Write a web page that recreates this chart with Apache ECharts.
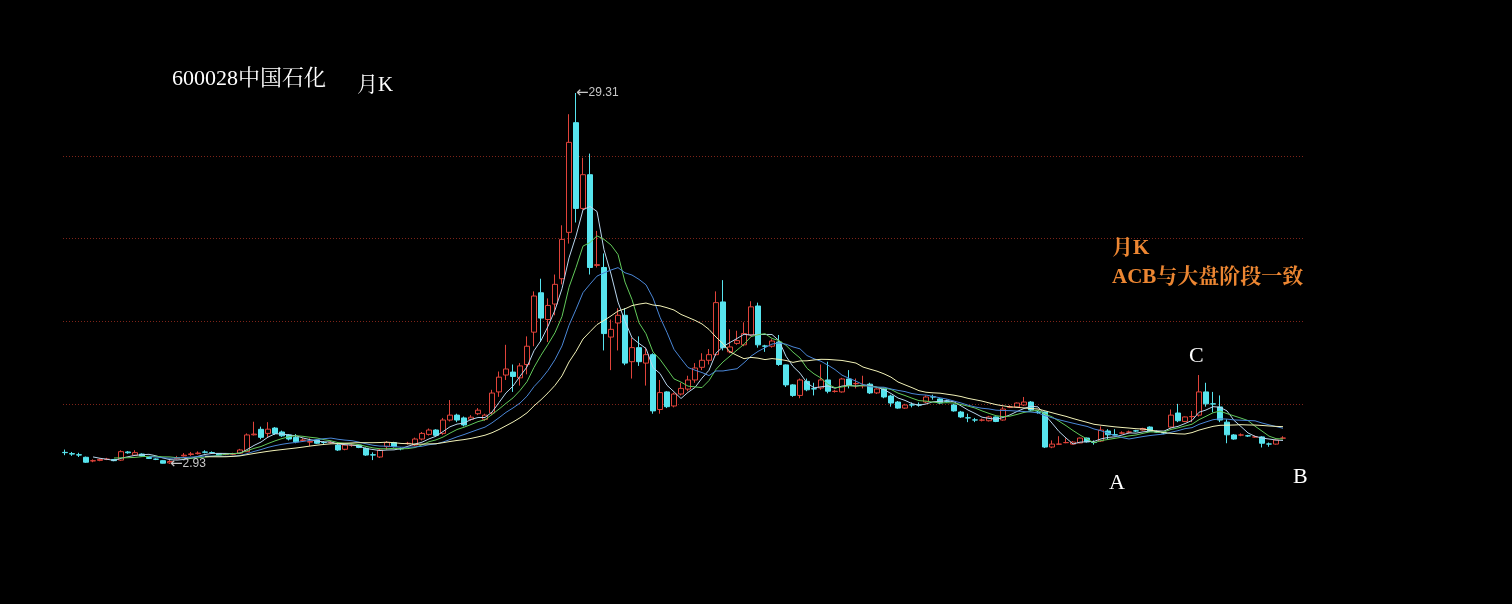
<!DOCTYPE html>
<html><head><meta charset="utf-8">
<script src="https://cdn.jsdelivr.net/npm/echarts@6/dist/echarts.min.js"></script>
<style>html,body{margin:0;padding:0;background:#000;}#c{width:1512px;height:604px;}</style>
</head><body><div id="c"></div>
<script>
// Monthly K of 600028 (from 2001-08)
const opens = [3.75,3.66,3.58,3.40,3.14,3.18,3.25,3.24,3.20,3.78,3.55,3.63,3.38,3.27,3.16,3.00,3.30,3.50,3.60,3.66,
3.78,3.74,3.67,3.60,3.62,3.69,3.80,5.00,5.39,5.10,5.48,5.20,4.99,4.82,4.60,4.48,4.63,4.46,4.44,4.27,
3.97,4.26,4.27,4.04,3.58,3.42,4.16,4.45,4.02,4.38,4.27,4.70,5.03,5.34,5.10,6.05,6.40,6.20,6.10,6.50,
6.10,6.55,8.05,9.25,9.46,9.05,10.00,12.30,15.10,13.20,14.30,16.10,19.40,27.20,21.10,23.50,17.05,16.90,11.95,12.95,
13.50,10.20,11.20,10.10,10.70,6.80,8.05,7.05,7.90,8.25,8.90,9.80,10.30,10.70,14.45,10.90,11.50,11.40,12.10,14.16,
11.32,11.30,11.60,9.97,8.55,7.80,8.80,8.28,8.33,8.90,8.08,8.05,8.97,8.63,8.48,8.60,7.98,8.26,7.76,7.33,
6.90,7.13,7.13,7.33,7.70,7.55,7.40,7.12,6.62,6.21,6.06,6.04,6.00,6.27,6.05,6.96,6.98,7.12,7.33,6.62,
6.62,4.13,4.33,4.44,4.34,4.42,4.77,4.46,4.56,5.27,5.00,5.12,5.19,5.28,5.34,5.55,5.21,5.14,5.55,6.55,
5.95,6.29,6.40,8.05,7.20,6.98,5.90,4.99,4.98,4.93,4.84,4.85,4.35,4.34,4.76];
const closes = [3.73,3.63,3.56,3.05,3.16,3.25,3.27,3.16,3.80,3.72,3.73,3.49,3.32,3.26,2.98,3.10,3.35,3.55,3.64,3.70,
3.76,3.72,3.57,3.62,3.64,3.92,4.99,5.05,4.82,5.40,5.10,4.93,4.70,4.50,4.63,4.52,4.40,4.45,4.45,3.92,
4.27,4.27,4.10,3.56,3.56,3.92,4.45,4.16,4.00,4.40,4.70,5.10,5.34,4.96,6.05,6.40,6.05,5.70,6.25,6.75,
6.40,7.97,9.10,9.68,9.15,9.90,11.30,14.87,13.30,14.20,15.70,18.90,25.80,21.10,23.50,16.90,17.10,12.20,12.50,13.50,
10.10,11.20,10.20,10.70,6.70,8.00,7.00,7.90,8.30,8.90,9.75,10.30,10.70,14.40,11.20,11.25,11.70,12.20,14.10,11.40,
11.30,11.67,10.00,8.55,7.80,8.90,8.20,8.26,8.90,8.10,8.10,8.97,8.50,8.65,8.50,7.98,8.26,7.69,7.26,6.90,
7.12,7.12,7.12,7.69,7.69,7.26,7.38,6.70,6.27,6.20,6.05,6.05,6.27,5.95,6.83,6.98,7.26,7.33,6.76,6.60,
4.13,4.34,4.34,4.45,4.48,4.77,4.50,4.45,5.34,5.00,4.99,5.13,5.20,5.27,5.45,5.27,5.20,5.13,6.40,6.00,
6.27,6.30,8.05,7.20,7.19,6.05,5.00,4.70,4.99,4.92,4.85,4.40,4.34,4.63,4.77];
const lows = [3.55,3.50,3.42,3.00,3.05,3.12,3.20,3.12,3.15,3.65,3.50,3.45,3.28,3.20,2.96,2.93,3.25,3.45,3.50,3.60,
3.68,3.65,3.52,3.55,3.55,3.65,3.78,4.95,4.68,4.85,5.00,4.85,4.60,4.40,4.50,4.20,4.35,4.35,4.38,3.85,
3.90,4.15,4.05,3.50,3.20,3.35,3.95,4.10,3.90,4.30,4.20,4.60,4.95,4.90,5.00,5.95,5.90,5.60,6.00,6.40,
6.00,6.40,7.70,8.90,8.05,8.50,9.30,11.30,11.60,11.60,13.50,15.70,18.60,20.10,21.00,16.40,16.90,11.00,9.60,11.00,
9.95,9.00,9.90,8.50,6.50,6.50,6.90,6.95,7.80,8.10,8.70,9.60,10.00,10.60,11.00,10.80,11.40,11.30,12.00,11.20,
10.90,11.20,9.90,8.40,7.70,7.60,8.10,7.80,8.20,7.95,8.00,8.00,8.30,8.30,8.30,7.90,7.90,7.60,7.00,6.85,
6.85,6.95,7.00,7.25,7.50,7.20,7.30,6.65,6.20,5.90,5.90,5.95,5.95,5.90,6.00,6.90,6.95,7.05,6.70,6.50,
4.06,4.05,4.30,4.40,4.30,4.40,4.45,4.30,4.50,4.70,4.90,5.05,5.10,5.20,5.30,5.20,5.15,5.05,5.50,5.90,
5.90,5.90,6.30,7.00,6.60,5.90,4.40,4.65,4.90,4.85,4.80,4.10,4.15,4.30,4.70];
const highs = [3.95,3.78,3.72,3.45,3.25,3.32,3.36,3.28,3.90,3.85,3.90,3.68,3.42,3.32,3.20,3.20,3.50,3.70,3.78,3.82,
3.90,3.82,3.70,3.70,3.72,4.00,5.10,5.93,5.58,5.90,5.55,5.30,5.05,5.05,4.75,4.75,4.70,4.55,4.55,4.35,
4.35,4.35,4.32,4.10,3.75,4.00,4.55,4.50,4.10,4.50,4.80,5.20,5.45,5.40,6.20,7.47,6.50,6.30,6.40,6.90,
6.50,8.20,9.50,11.40,10.00,10.10,12.00,15.20,16.10,14.70,16.40,19.90,27.80,29.31,24.70,25.00,19.50,17.90,13.20,14.00,
14.00,11.90,12.00,11.20,10.80,8.90,8.10,8.00,8.70,9.20,10.10,10.80,11.10,15.20,16.00,12.50,12.40,13.00,14.50,14.40,
11.40,11.80,12.10,10.00,8.60,9.00,9.00,8.70,10.00,10.20,8.20,9.05,9.60,9.00,9.20,8.70,8.30,8.30,7.85,7.40,
7.20,7.30,7.30,7.80,7.85,7.60,7.50,7.20,6.70,6.50,6.20,6.15,6.35,6.30,7.00,7.10,7.30,7.69,7.40,6.70,
6.65,4.60,4.90,4.75,4.55,4.80,4.80,4.60,5.60,5.40,5.40,5.25,5.30,5.35,5.50,5.60,5.30,5.20,6.80,7.20,
6.30,6.70,9.25,8.70,8.05,7.80,6.10,5.05,5.10,5.00,4.95,4.90,4.45,4.65,4.90];
const maPeriods = [5, 8, 13, 21];
const maColors = ['#b9d6ee', '#62c95a', '#4a86d6', '#f2f2b8'];
const titleText = '600028中国石化';
const subText = '月K';
const noteLines = ['月K', 'ACB与大盘阶段一致'];
const phaseLabels = ['A', 'C', 'B'];

const categories = [];
for (let i = 0; i < closes.length; i++) {
  const y = 2001 + Math.floor((7 + i) / 12), m = (7 + i) % 12 + 1;
  categories.push(y + '-' + (m < 10 ? '0' : '') + m);
}
const kdata = opens.map((o, i) => [o, closes[i], lows[i], highs[i]]);
function ma(n) {
  const out = [];
  for (let i = 0; i < closes.length; i++) {
    if (i < n - 1) { out.push('-'); continue; }
    let s = 0; for (let j = i - n + 1; j <= i; j++) s += closes[j];
    out.push(+(s / n).toFixed(3));
  }
  return out;
}
let iMax = 0, iMin = 0;
highs.forEach((h, i) => { if (h > highs[iMax]) iMax = i; });
lows.forEach((l, i) => { if (l < lows[iMin]) iMin = i; });

const chart = echarts.init(document.getElementById('c'), null, { renderer: 'canvas' });
const serif = '"Liberation Serif","Noto Serif CJK SC","Noto Sans CJK SC",serif';
const txt = (t, left, top, color, size, weight) => ({ text: t, left: left, top: top,
  textStyle: { color: color, fontSize: size, fontFamily: serif, fontWeight: weight || 'normal' } });

chart.setOption({
  backgroundColor: '#000',
  animation: false,
  title: [
    txt(titleText, 167, 63, '#ffffff', 22),
    txt(subText, 352, 70, '#ffffff', 21),
    txt(noteLines[0], 1107, 233, '#ec8632', 21, 'bold'),
    txt(noteLines[1], 1107, 262, '#ec8632', 21, 'bold'),
    txt(phaseLabels[0], 1104, 467, '#ffffff', 22),
    txt(phaseLabels[1], 1184, 340, '#ffffff', 22),
    txt(phaseLabels[2], 1288, 461, '#ffffff', 22)
  ],
  grid: [
    { left: 61.5, width: 1225, top: 83.3, bottom: 98.9 },
    { left: 63, right: 209, top: 156, height: 248 }
  ],
  xAxis: [
    { type: 'category', data: categories, gridIndex: 0, boundaryGap: true, show: false },
    { type: 'value', gridIndex: 1, min: 0, max: 1, show: false }
  ],
  yAxis: [
    { type: 'value', gridIndex: 0, min: 0, max: 30, show: false, splitLine: { show: false } },
    { type: 'value', gridIndex: 1, min: 0, max: 3, interval: 1,
      axisLine: { show: false }, axisTick: { show: false }, axisLabel: { show: false },
      splitLine: { show: true, lineStyle: { color: '#7e2419', type: [1, 2], width: 1 } } }
  ],
  series: [
    {
      type: 'candlestick', data: kdata, xAxisIndex: 0, yAxisIndex: 0, barWidth: 5,
      itemStyle: { color: '#000', color0: '#57e4ee', borderColor: '#e0433a', borderColor0: '#57e4ee', borderWidth: 1 },
      markPoint: {
        symbol: 'circle', symbolSize: 0.01, animation: false,
        label: { show: true, position: 'right', distance: 0,
          formatter: p => '{a|\u2190}{b|' + p.value.toFixed(2) + '}',
          rich: {
            a: { color: '#c8c8c8', fontSize: 15, fontFamily: '"DejaVu Sans", sans-serif' },
            b: { color: '#c8c8c8', fontSize: 12, fontFamily: '"Liberation Sans", Arial, sans-serif' }
          } },
        data: [
          { coord: [iMax, highs[iMax]], value: highs[iMax] },
          { coord: [iMin, lows[iMin]], value: lows[iMin] }
        ]
      }
    }
  ].concat(maPeriods.map((n, k) => ({
    type: 'line', data: ma(n), xAxisIndex: 0, yAxisIndex: 0, showSymbol: false, symbol: 'none',
    smooth: false, lineStyle: { color: maColors[k], width: 1 }, z: 3
  })))
});
</script></body></html>
